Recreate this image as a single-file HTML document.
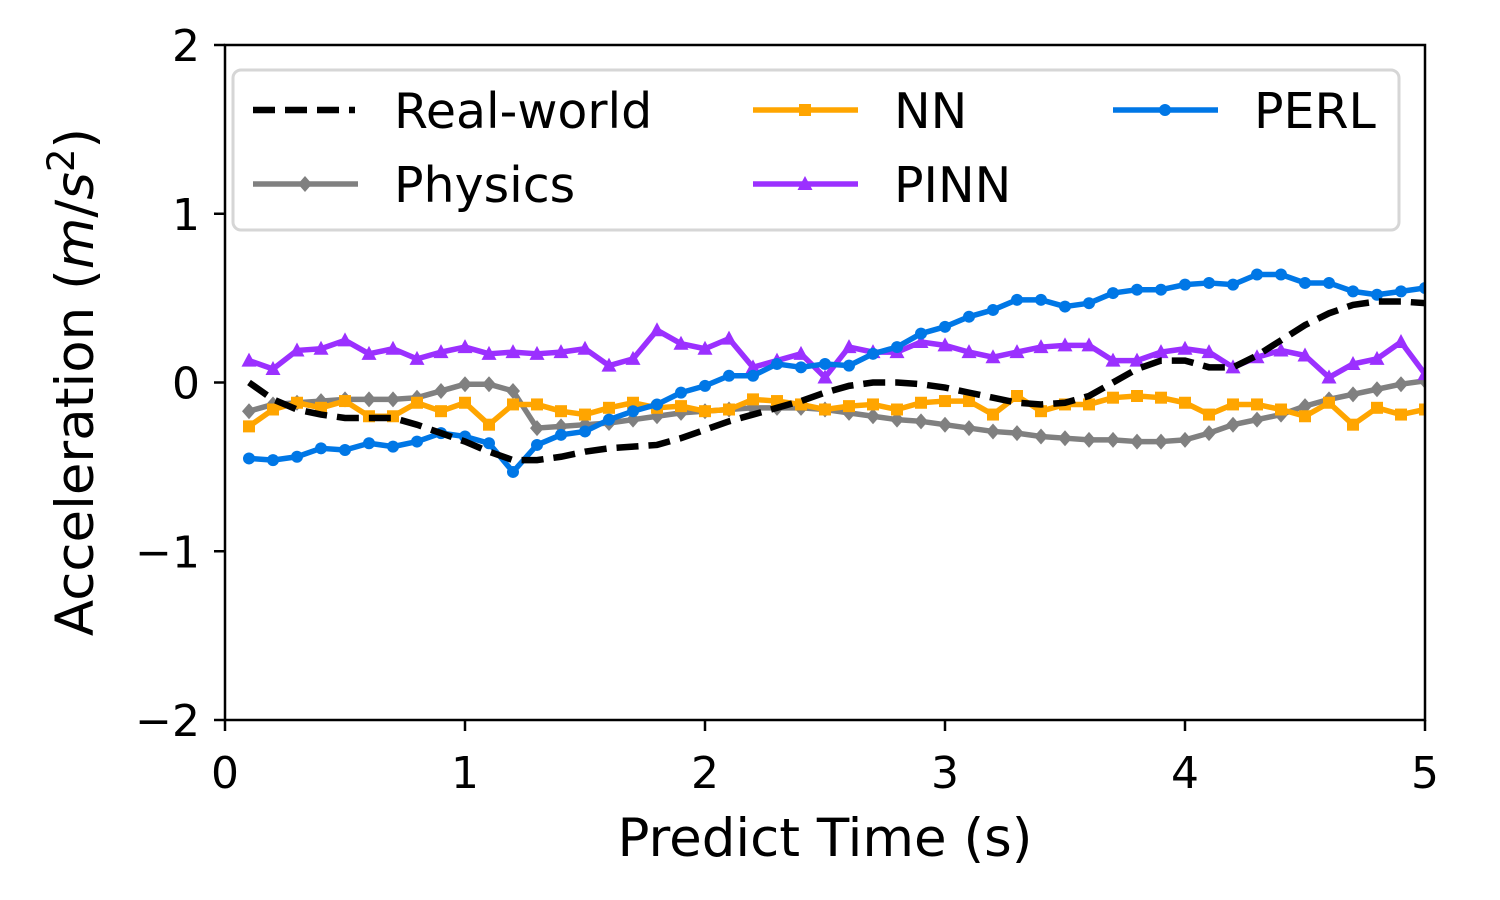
<!DOCTYPE html>
<html><head><meta charset="utf-8"><style>
html,body{margin:0;padding:0;background:#fff;}
svg{display:block;font-family:"DejaVu Sans","Liberation Sans",sans-serif;}
</style></head><body>
<svg id="chart" width="1500" height="900" viewBox="0 0 1500 900" xmlns="http://www.w3.org/2000/svg">
<defs><clipPath id="plotclip"><rect x="225" y="45" width="1200" height="675"/></clipPath></defs>
<g id="series" clip-path="url(#plotclip)"></g>
<rect x="225" y="45" width="1200" height="675" fill="none" stroke="#000" stroke-width="2.5"/>
<g id="axes"></g>
<text x="825" y="856" font-size="53" text-anchor="middle">Predict Time (s)</text>
<text transform="translate(93,382) rotate(-90)" font-size="53" text-anchor="middle">Acceleration (<tspan font-style="italic">m</tspan>/<tspan font-style="italic">s</tspan><tspan font-size="37" dy="-19">2</tspan><tspan dy="19">)</tspan></text>
<g id="legend">
<rect x="233" y="70" width="1166" height="160" rx="8" fill="#fff" fill-opacity="0.85" stroke="#d6d6d6" stroke-width="3"/>
</g>
</svg>
<script>
const times = Array.from({length:50},(_,i)=>+(0.1*(i+1)).toFixed(1));
const realWorld = [0,-0.10,-0.16,-0.19,-0.21,-0.21,-0.21,-0.25,-0.30,-0.35,-0.41,-0.46,-0.46,-0.44,-0.41,-0.39,-0.38,-0.37,-0.33,-0.28,-0.23,-0.19,-0.15,-0.11,-0.06,-0.02,0,0,-0.01,-0.03,-0.06,-0.09,-0.12,-0.13,-0.12,-0.08,0.0,0.08,0.13,0.13,0.09,0.09,0.16,0.25,0.34,0.41,0.46,0.48,0.48,0.47];
const physics = [-0.17,-0.13,-0.12,-0.11,-0.10,-0.10,-0.10,-0.09,-0.05,-0.01,-0.01,-0.05,-0.27,-0.26,-0.25,-0.24,-0.22,-0.20,-0.18,-0.17,-0.16,-0.15,-0.15,-0.15,-0.16,-0.18,-0.20,-0.22,-0.23,-0.25,-0.27,-0.29,-0.30,-0.32,-0.33,-0.34,-0.34,-0.35,-0.35,-0.34,-0.30,-0.25,-0.22,-0.19,-0.14,-0.10,-0.07,-0.04,-0.01,0.01];
const nn = [-0.26,-0.16,-0.12,-0.15,-0.11,-0.20,-0.20,-0.12,-0.17,-0.12,-0.25,-0.13,-0.13,-0.17,-0.19,-0.15,-0.12,-0.15,-0.14,-0.17,-0.16,-0.10,-0.11,-0.13,-0.16,-0.14,-0.13,-0.16,-0.12,-0.11,-0.11,-0.19,-0.08,-0.17,-0.13,-0.13,-0.09,-0.08,-0.09,-0.12,-0.19,-0.13,-0.13,-0.16,-0.20,-0.12,-0.25,-0.15,-0.19,-0.16];
const pinn = [0.13,0.08,0.19,0.20,0.25,0.17,0.20,0.14,0.18,0.21,0.17,0.18,0.17,0.18,0.20,0.10,0.14,0.31,0.23,0.20,0.26,0.09,0.13,0.17,0.03,0.21,0.18,0.18,0.24,0.22,0.18,0.15,0.18,0.21,0.22,0.22,0.13,0.13,0.18,0.20,0.18,0.09,0.15,0.19,0.16,0.03,0.11,0.14,0.24,0.05];
const perl = [-0.45,-0.46,-0.44,-0.39,-0.40,-0.36,-0.38,-0.35,-0.30,-0.32,-0.36,-0.53,-0.37,-0.31,-0.29,-0.22,-0.17,-0.13,-0.06,-0.02,0.04,0.04,0.11,0.09,0.11,0.10,0.17,0.21,0.29,0.33,0.39,0.43,0.49,0.49,0.45,0.47,0.53,0.55,0.55,0.58,0.59,0.58,0.64,0.64,0.59,0.59,0.54,0.52,0.54,0.56];
const xTicks = [0,1,2,3,4,5];
const yTicks = [-2,-1,0,1,2];
const yTickLabels = ["\u22122","\u22121","0","1","2"];

const NS="http://www.w3.org/2000/svg";
const xs = v => 225 + v/5*1200;
const ys = v => 382.5 - v*168.75;
function mk(tag, attrs, parent){const e=document.createElementNS(NS,tag);for(const k in attrs)e.setAttribute(k,attrs[k]);parent.appendChild(e);return e;}
const axes=document.getElementById('axes');
xTicks.forEach(t=>{
  const l=mk('line',{x1:xs(t),x2:xs(t),y1:720,y2:731,stroke:'#000','stroke-width':2.5},axes);
  
  
  const tx=mk('text',{x:xs(t),y:788,'font-size':44,'text-anchor':'middle'},axes);tx.textContent=t;
  
  
});
yTicks.forEach((t,i)=>{
  const l=mk('line',{x1:214,x2:225,y1:ys(t),y2:ys(t),stroke:'#000','stroke-width':2.5},axes);
  
  
  const tx=mk('text',{x:200,y:ys(t)+16,'font-size':44,'text-anchor':'end'},axes);tx.textContent=yTickLabels[i];
  
  
});
function marker(g,type,x,y,color){
  let e;
  if(type==='dot') e=mk('circle',{cx:x,cy:y,r:6,fill:color},g);
  else if(type==='square') e=mk('rect',{x:x-6,y:y-6,width:12,height:12,fill:color},g);
  else if(type==='diamond') e=mk('polygon',{points:`${x},${y-8} ${x+7},${y} ${x},${y+8} ${x-7},${y}`,fill:color},g);
  else if(type==='tri') e=mk('polygon',{points:`${x},${y-8} ${x+7.5},${y+6} ${x-7.5},${y+6}`,fill:color},g);
  return e;
}
const seriesG=document.getElementById('series');
const defs=[
  {name:'physics',vals:physics,color:'#808080',m:'diamond'},
  {name:'nn',vals:nn,color:'#FFA500',m:'square'},
  {name:'pinn',vals:pinn,color:'#9B30FF',m:'tri'},
  {name:'perl',vals:perl,color:'#0077E6',m:'dot'},
];
defs.forEach(d=>{
  const g=mk('g',{},seriesG);
  
  
  const p=mk('polyline',{points:d.vals.map((v,i)=>xs(times[i])+','+ys(v)).join(' '),fill:'none',stroke:d.color,'stroke-width':5.5,'stroke-linejoin':'round'},g);
  
  
  d.vals.forEach((v,i)=>{const e=marker(g,d.m,xs(times[i]),ys(v),d.color);
    
    });
});
const rw=mk('polyline',{points:realWorld.map((v,i)=>xs(times[i])+','+ys(v)).join(' '),fill:'none',stroke:'#000','stroke-width':6.5,'stroke-dasharray':'22 10'},seriesG);


const lg=document.getElementById('legend');
const entries=[
  {label:'Real-world',x:253,y:110,color:'#000',m:null},
  {label:'Physics',x:253,y:184,color:'#808080',m:'diamond'},
  {label:'NN',x:753,y:110,color:'#FFA500',m:'square'},
  {label:'PINN',x:753,y:184,color:'#9B30FF',m:'tri'},
  {label:'PERL',x:1113,y:110,color:'#0077E6',m:'dot'},
];
entries.forEach(en=>{
  const g=mk('g',{},lg);
  
  
  if(en.m===null) mk('line',{x1:en.x,x2:en.x+102,y1:en.y,y2:en.y,stroke:'#000','stroke-width':6.5,'stroke-dasharray':'22 10'},g);
  else {mk('line',{x1:en.x,x2:en.x+105,y1:en.y,y2:en.y,stroke:en.color,'stroke-width':5.5},g);marker(g,en.m,en.x+52,en.y,en.color);}
  const t=mk('text',{x:en.x+141,y:en.y+18,'font-size':49},g);t.textContent=en.label;
});
</script>
</body></html>
